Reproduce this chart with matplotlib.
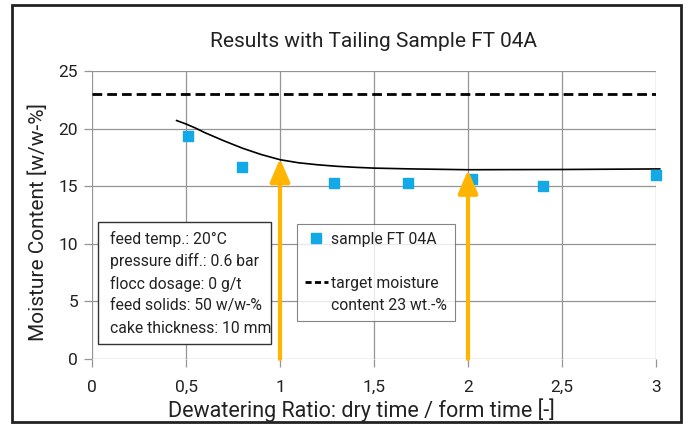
import matplotlib
matplotlib.use('Agg')
import matplotlib.pyplot as plt
from matplotlib.patches import Rectangle
from matplotlib.lines import Line2D
from matplotlib.ticker import FuncFormatter

plt.rcParams['font.family'] = ['Liberation Sans Narrow', 'Roboto', 'DejaVu Sans']

# measured samples
ratio = [0.51, 0.80, 1.285, 1.68, 2.02, 2.40, 3.0]
moisture = [19.4, 16.7, 15.3, 15.3, 15.65, 15.05, 16.0]

# trend line
fit_x = [0.45, 0.50, 0.55, 0.60, 0.70, 0.80, 0.90, 1.0, 1.1, 1.2, 1.3, 1.4, 1.5, 1.7, 2.0, 2.5, 3.02]
fit_y = [20.7, 20.4, 20.05, 19.65, 18.95, 18.3, 17.75, 17.3, 17.03, 16.86, 16.73, 16.64, 16.57, 16.5, 16.43, 16.45, 16.5]

target = 23.0
arrow_x = [1.0, 2.0]
arrow_tip = [17.4, 16.4]

info_lines = ['feed temp.: 20°C', 'pressure diff.: 0.6 bar', 'flocc dosage: 0 g/t',
              'feed solids: 50 w/w-%', 'cake thickness: 10 mm']

fig = plt.figure(figsize=(6.85, 4.26), dpi=100)
ax = fig.add_axes([92 / 685, 1 - 359 / 426, (656 - 92) / 685, (359 - 71) / 426])

ax.set_xlim(0, 3)
ax.set_ylim(0, 25)
ax.set_xticks([0, 0.5, 1, 1.5, 2, 2.5, 3])
ax.set_yticks([0, 5, 10, 15, 20, 25])
ax.xaxis.set_major_formatter(FuncFormatter(lambda v, p: f'{v:g}'.replace('.', ',')))
ax.grid(True, color='#959595', linewidth=0.9)
ax.set_axisbelow(True)
for s in ax.spines.values():
    s.set_visible(False)
ax.tick_params(axis='both', length=6, width=0.9, color='#959595', labelsize=12.5,
               labelcolor='#222222', pad=4)
ax.tick_params(axis='x', pad=9)

ax.plot([0, 3], [target, target], color='black', linestyle=(0, (3.5, 1.8)), linewidth=2)
ax.plot(fit_x, fit_y, color='black', linewidth=1.2, clip_on=False)
ax.scatter(ratio, moisture, marker='s', s=45, color='#12a9e6', zorder=3, clip_on=False)

for xa, tip in zip(arrow_x, arrow_tip):
    ax.annotate('', xy=(xa, tip), xytext=(xa, 0),
                arrowprops=dict(arrowstyle='-|>,head_length=1.4,head_width=0.6',
                                color='#ffb400', lw=3, shrinkA=0, shrinkB=0),
                zorder=4)

# info box
ax.add_patch(Rectangle((0.03, 1.3), 0.92, 10.6, facecolor='white', edgecolor='#333333',
                       linewidth=1, zorder=5))
for i, line in enumerate(info_lines):
    ax.text(0.095, 10.4 - i * 1.93, line, fontsize=11.3, color='#222222',
            va='center', ha='left', zorder=6)

# legend: handle sits next to the first line of the two-line label
blank = Line2D([], [], linestyle='none')
handles = [Line2D([], [], marker='s', markersize=7, linestyle='none', color='#12a9e6'),
           blank,
           Line2D([], [], color='black', linestyle=(0, (2.2, 1.2)), linewidth=2),
           blank]
labels = ['sample FT 04A', ' ', 'target moisture', 'content 23 wt.-%']
leg = ax.legend(handles, labels, loc='upper left',
                bbox_to_anchor=(0.363, 0.469), borderaxespad=0, frameon=True,
                fancybox=False, edgecolor='#666666', fontsize=11.3, handlelength=1.5,
                handletextpad=0.2, labelspacing=0.45, borderpad=0.5,
                labelcolor='#222222')
leg.get_frame().set_linewidth(0.8)
leg.set_zorder(7)

ax.set_title('Results with Tailing Sample FT 04A', fontsize=15, color='#222222', pad=17)
ax.set_xlabel('Dewatering Ratio: dry time / form time [-]', fontsize=15.5,
              color='#222222', labelpad=0)
ax.xaxis.set_label_coords((361 - 92) / 564, -0.135)
ax.set_ylabel('Moisture Content [w/w-%]', fontsize=15, color='#222222')
ax.yaxis.set_label_coords(-0.078, 0.476)

# outer frame
fig.patches.append(Rectangle((12 / 685, 1 - 422 / 426), (681 - 12) / 685, (422 - 5) / 426,
                             transform=fig.transFigure, fill=False, edgecolor='#222222',
                             linewidth=2))

fig.savefig('out.png', dpi=100)
